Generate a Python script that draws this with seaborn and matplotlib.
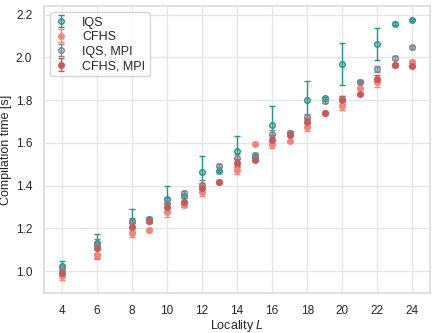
import numpy as np
import matplotlib
matplotlib.use('Agg')
import matplotlib.pyplot as plt
import seaborn as sns

# locality values
L = [4, 6, 8, 9, 10, 11, 12, 13, 14, 15, 16, 17, 18, 19, 20, 21, 22, 23, 24]

# IQS
iqs = [1.025, 1.129, 1.236, 1.245, 1.337, 1.35, 1.462, 1.468, 1.563, 1.535,
       1.682, 1.645, 1.802, 1.809, 1.969, 1.885, 2.062, 2.158, 2.175]
iqs_err = [0.022, 0.045, 0.055, 0.008, 0.062, 0.008, 0.078, 0.006, 0.07, 0.006,
           0.09, 0.006, 0.09, 0.006, 0.097, 0.006, 0.075, 0.006, 0.005]

# CFHS
cfhs = [0.975, 1.076, 1.18, 1.19, 1.275, 1.307, 1.37, 1.415, 1.473, 1.597,
        1.595, 1.608, 1.674, 1.74, 1.775, 1.858, 1.884, 1.966, 1.981]
cfhs_err = [0.017, 0.022, 0.02, 0.005, 0.02, 0.005, 0.02, 0.005, 0.02, 0.005,
            0.02, 0.005, 0.02, 0.005, 0.02, 0.005, 0.02, 0.005, 0.008]

# IQS, MPI
iqs_mpi = [1.015, 1.12, 1.23, 1.235, 1.32, 1.365, 1.405, 1.493, 1.53, 1.543,
           1.644, 1.648, 1.721, 1.794, 1.806, 1.887, 1.946, 1.997, 2.047]
iqs_mpi_err = [0.015, 0.015, 0.02, 0.008, 0.02, 0.008, 0.02, 0.008, 0.02, 0.008,
               0.015, 0.008, 0.015, 0.008, 0.012, 0.008, 0.015, 0.008, 0.008]

# CFHS, MPI
cfhs_mpi = [0.993, 1.106, 1.206, 1.236, 1.30, 1.323, 1.39, 1.416, 1.505, 1.52,
            1.615, 1.636, 1.698, 1.74, 1.80, 1.83, 1.90, 1.966, 1.961]
cfhs_mpi_err = [0.012, 0.045, 0.02, 0.005, 0.02, 0.005, 0.02, 0.005, 0.02, 0.005,
                0.02, 0.005, 0.02, 0.005, 0.02, 0.005, 0.02, 0.005, 0.005]

sns.set_theme(style='whitegrid')
plt.rcParams['font.family'] = ['Liberation Sans', 'DejaVu Sans']
plt.rcParams['mathtext.fontset'] = 'custom'
plt.rcParams['mathtext.it'] = 'Liberation Sans:italic'

fig, ax = plt.subplots(figsize=(4.36, 3.33), dpi=100)

series = [
    (iqs, iqs_err, 'IQS', '#23968c', True),
    (cfhs, cfhs_err, 'CFHS', '#f7837a', False),
    (iqs_mpi, iqs_mpi_err, 'IQS, MPI', '#7b8797', True),
    (cfhs_mpi, cfhs_mpi_err, 'CFHS, MPI', '#cf5656', False),
]
for y, e, lab, c, hollow in series:
    if hollow:
        face = matplotlib.colors.to_rgba(c, 0.35)
    else:
        face = c
    ax.errorbar(L, y, yerr=e, fmt='o', color=c, mfc=face, mec=c, mew=1.0,
                ms=4, capsize=2.5, elinewidth=1.0, capthick=1.0, label=lab)

ax.set_xticks(range(4, 25, 2))
ax.set_xlabel('Locality $L$', fontsize=9, labelpad=1)
ax.set_ylabel('Compilation time [s]', fontsize=9, labelpad=3)
ax.tick_params(labelsize=8.5, pad=2.5)
for s in ax.spines.values():
    s.set_edgecolor('#dddddd')
ax.grid(color='#e6e6e6', linewidth=1)
ax.legend(loc='upper left', fontsize=9, frameon=True, borderpad=0.35,
          handlelength=1.0, handletextpad=1.2, labelspacing=0.2)

plt.subplots_adjust(left=0.101, right=0.986, top=0.982, bottom=0.12)
plt.savefig('out.png', dpi=100)
